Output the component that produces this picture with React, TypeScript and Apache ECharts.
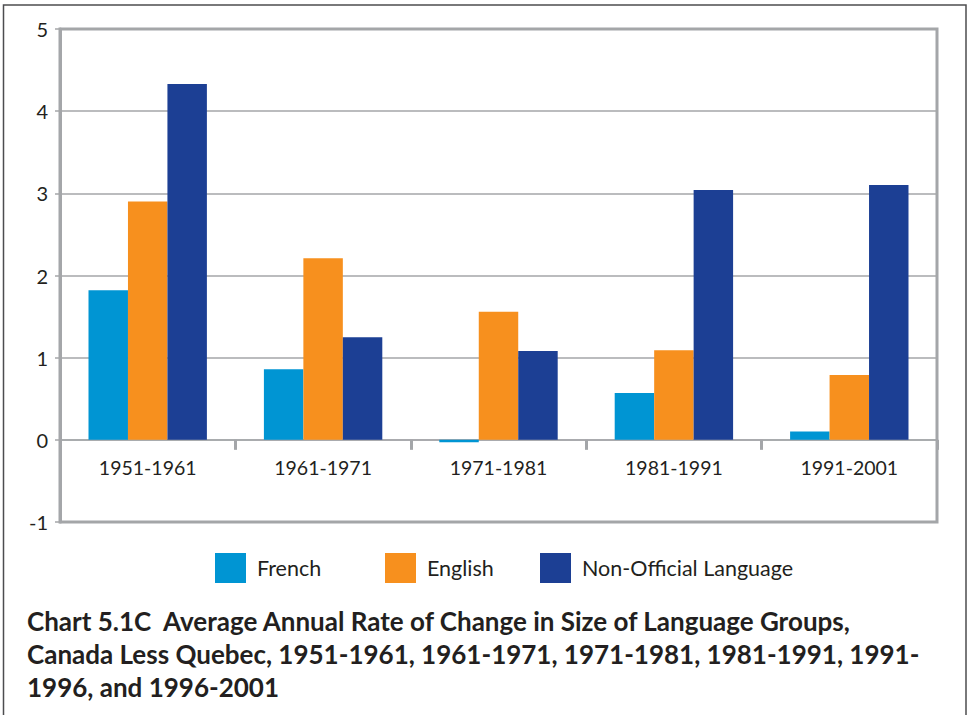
import React, { useEffect, useRef } from "react";
import * as echarts from "echarts";

const categories = ["1951-1961", "1961-1971", "1971-1981", "1981-1991", "1991-2001"];
const french = [1.82, 0.86, -0.03, 0.57, 0.1];
const english = [2.9, 2.21, 1.56, 1.09, 0.79];
const nonOfficial = [4.33, 1.25, 1.08, 3.04, 3.1];
const seriesNames = ["French", "English", "Non-Official Language"];
const colors = ["#0095d3", "#f7901e", "#1c3f94"];
const titleLines = [
  "Chart 5.1C  Average Annual Rate of Change in Size of Language Groups,",
  "Canada Less Quebec, 1951-1961, 1961-1971, 1971-1981, 1981-1991, 1991-",
  "1996, and 1996-2001",
];

const FONT = "Lato, 'Noto Sans', sans-serif";
const TEXT = "#231f20";
const GRAY = "#a4a6a9";

export default function App() {
  const ref = useRef<HTMLDivElement>(null);
  useEffect(() => {
    if (!ref.current) return;
    const chart = echarts.init(ref.current, null, { renderer: "svg" });
    const values = [french, english, nonOfficial];
    const legendLefts = [215, 385, 540];
    chart.setOption({
      animation: false,
      backgroundColor: "#ffffff",
      textStyle: { fontFamily: FONT },
      title: {
        text: titleLines.join("\n"),
        left: 22,
        top: 599,
        textStyle: {
          fontFamily: FONT,
          fontWeight: "bold",
          fontSize: 26,
          lineHeight: 33,
          color: TEXT,
        },
      },
      legend: seriesNames.map((n, i) => ({
        data: [n],
        left: legendLefts[i],
        top: 553,
        padding: 0,
        itemWidth: 31,
        itemHeight: 30,
        icon: "rect",
        textStyle: { fontSize: 21.5, color: TEXT, fontFamily: FONT, padding: [6, 0, 0, 6] },
      })),
      grid: {
        left: 60,
        right: 33,
        top: 29,
        bottom: 193,
        show: true,
        borderColor: GRAY,
        borderWidth: 3,
        containLabel: false,
      },
      xAxis: {
        type: "category",
        data: categories,
        axisLine: { onZero: true, lineStyle: { color: GRAY, width: 1.5 } },
        axisTick: { show: true, length: 10, lineStyle: { color: GRAY, width: 3 } },
        axisLabel: { fontSize: 19.5, color: TEXT, margin: -65, fontFamily: FONT },
      },
      yAxis: {
        type: "value",
        min: -1,
        max: 5,
        interval: 1,
        axisLine: { show: true, lineStyle: { color: GRAY, width: 3 } },
        axisTick: { show: true, length: 5, lineStyle: { color: GRAY, width: 1.5 } },
        axisLabel: { fontSize: 20, color: TEXT, margin: 12, fontFamily: FONT },
        splitLine: { show: true, lineStyle: { color: GRAY, width: 1.5 } },
      },
      series: seriesNames.map((n, i) => ({
        name: n,
        type: "bar",
        data: values[i],
        barWidth: "22.5%",
        barGap: "0%",
        itemStyle: { color: colors[i] },
      })),
      graphic: [
        {
          type: "polyline",
          shape: { points: [[3.5, 720], [3.5, 5], [966, 5], [966, 720]] },
          style: { stroke: "#4d4d4f", lineWidth: 1.5, fill: "none" },
          silent: true,
        },
      ],
    });
    return () => chart.dispose();
  }, []);
  return (
    <div
      ref={ref}
      style={{ position: "fixed", left: 0, top: 0, width: 970, height: 715, background: "#fff" }}
    />
  );
}
